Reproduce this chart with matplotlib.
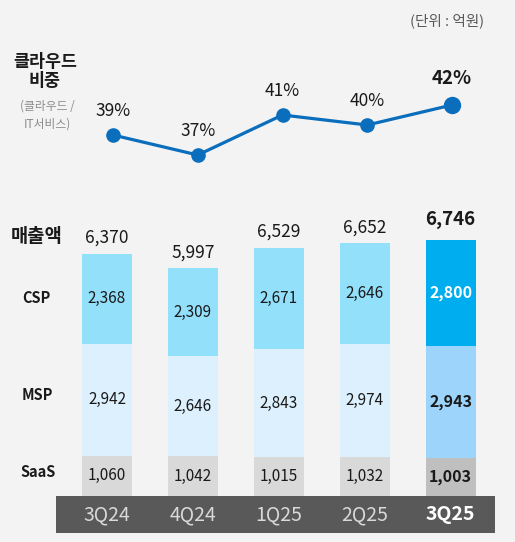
import matplotlib.pyplot as plt
import numpy as np

plt.rcParams['font.family'] = ['Noto Sans CJK KR', 'DejaVu Sans']

quarters = ['3Q24', '4Q24', '1Q25', '2Q25', '3Q25']
saas = [1060, 1042, 1015, 1032, 1003]
msp = [2942, 2646, 2843, 2974, 2943]
csp = [2368, 2309, 2671, 2646, 2800]
totals = [6370, 5997, 6529, 6652, 6746]
cloud_share = [39, 37, 41, 40, 42]

W, H = 515, 542
BG = '#f3f3f3'


def fig_box(left, top, right, bottom):
    # pixel box -> figure fraction [l, b, w, h]
    return [left / W, (H - bottom) / H, (right - left) / W, (bottom - top) / H]


fig = plt.figure(figsize=(W / 100, H / 100), dpi=100, facecolor=BG)

# ---- stacked bars ----
scale = 0.038  # px per unit
ax = fig.add_axes(fig_box(56, 200, 495, 533))
ax.set_facecolor('none')
x = np.arange(len(quarters))
ax.set_xlim((56 - 107) / 85.9, (495 - 107) / 85.9)
ax.set_ylim(-37 / scale, (496 - 200) / scale)
ax.axis('off')

light = {'saas': '#d9d9d9', 'msp': '#ddf0fd', 'csp': '#93e0fb'}
dark = {'saas': '#bfbfbf', 'msp': '#9dd4fb', 'csp': '#00adef'}
last = len(quarters) - 1

for i in x:
    pal = dark if i == last else light
    bold = 'bold' if i == last else 'normal'
    bottom = 0
    for key, vals in (('saas', saas), ('msp', msp), ('csp', csp)):
        v = vals[i]
        ax.bar(i, v, bottom=bottom, width=0.582, color=pal[key], linewidth=0)
        tc = 'white' if (i == last and key == 'csp') else '#1a1a1a'
        ax.text(i, bottom + v / 2, f'{v:,}', ha='center', va='center',
                fontsize=11 if i != last else 11.5, color=tc, fontweight=bold)
        bottom += v
    ax.annotate(f'{totals[i]:,}', (i, totals[i]), xytext=(0, 11.5 if i != last else 14.5),
                textcoords='offset points', ha='center', va='center',
                fontsize=12.5 if i != last else 13.5, fontweight=bold, color='#1a1a1a')

ax.axhspan(-37 / scale, 0, color='#595959', linewidth=0, zorder=0)
for i in x:
    ax.text(i, -18.5 / scale, quarters[i], ha='center', va='center',
            fontsize=14, color='white' if i == last else '#d9d9d9',
            fontweight='bold' if i == last else 'normal')

# ---- cloud share line ----
lx = fig.add_axes(fig_box(56, 60, 495, 190))
lx.set_facecolor('none')
lx.set_xlim((56 - 113) / 84.75, (495 - 113) / 84.75)
lx.set_ylim(42 - (190 - 105) / 10, 42 + (105 - 60) / 10)
lx.axis('off')
lx.plot(x, cloud_share, color='#0a6ebd', linewidth=2.3, zorder=2)
lx.plot(x[:-1], cloud_share[:-1], 'o', color='#0a6ebd', markersize=9.5, zorder=3)
lx.plot(x[-1:], cloud_share[-1:], 'o', color='#0a6ebd', markersize=11.5, zorder=3)
for i in x:
    lx.annotate(f'{cloud_share[i]}%', (i, cloud_share[i]),
                xytext=(0, 17 if i != last else 19), textcoords='offset points',
                ha='center', va='center', fontsize=12.5 if i != last else 13.5,
                fontweight='bold' if i == last else 'normal', color='#1a1a1a')

# ---- side labels ----
def px_text(px, py, s, **kw):
    fig.text(px / W, 1 - py / H, s, **kw)


px_text(447, 21, '(단위 : 억원)', ha='center', va='center', fontsize=10.5, color='#595959')
px_text(45, 62, '클라우드', ha='center', va='center', fontsize=12.5, fontweight='bold', color='#1a1a1a')
px_text(45, 81, '비중', ha='center', va='center', fontsize=12.5, fontweight='bold', color='#1a1a1a')
px_text(47, 106, '(클라우드 /', ha='center', va='center', fontsize=8.5, color='#8c8c8c')
px_text(47, 124, 'IT서비스)', ha='center', va='center', fontsize=8.5, color='#8c8c8c')
px_text(37, 237, '매출액', ha='center', va='center', fontsize=13.5, fontweight='bold', color='#1a1a1a')
px_text(36, 298, 'CSP', ha='center', va='center', fontsize=10.5, fontweight='bold', color='#1a1a1a')
px_text(37, 395, 'MSP', ha='center', va='center', fontsize=10.5, fontweight='bold', color='#1a1a1a')
px_text(38, 472, 'SaaS', ha='center', va='center', fontsize=10.5, fontweight='bold', color='#1a1a1a')

fig.savefig('out.png', dpi=100, facecolor=BG)
